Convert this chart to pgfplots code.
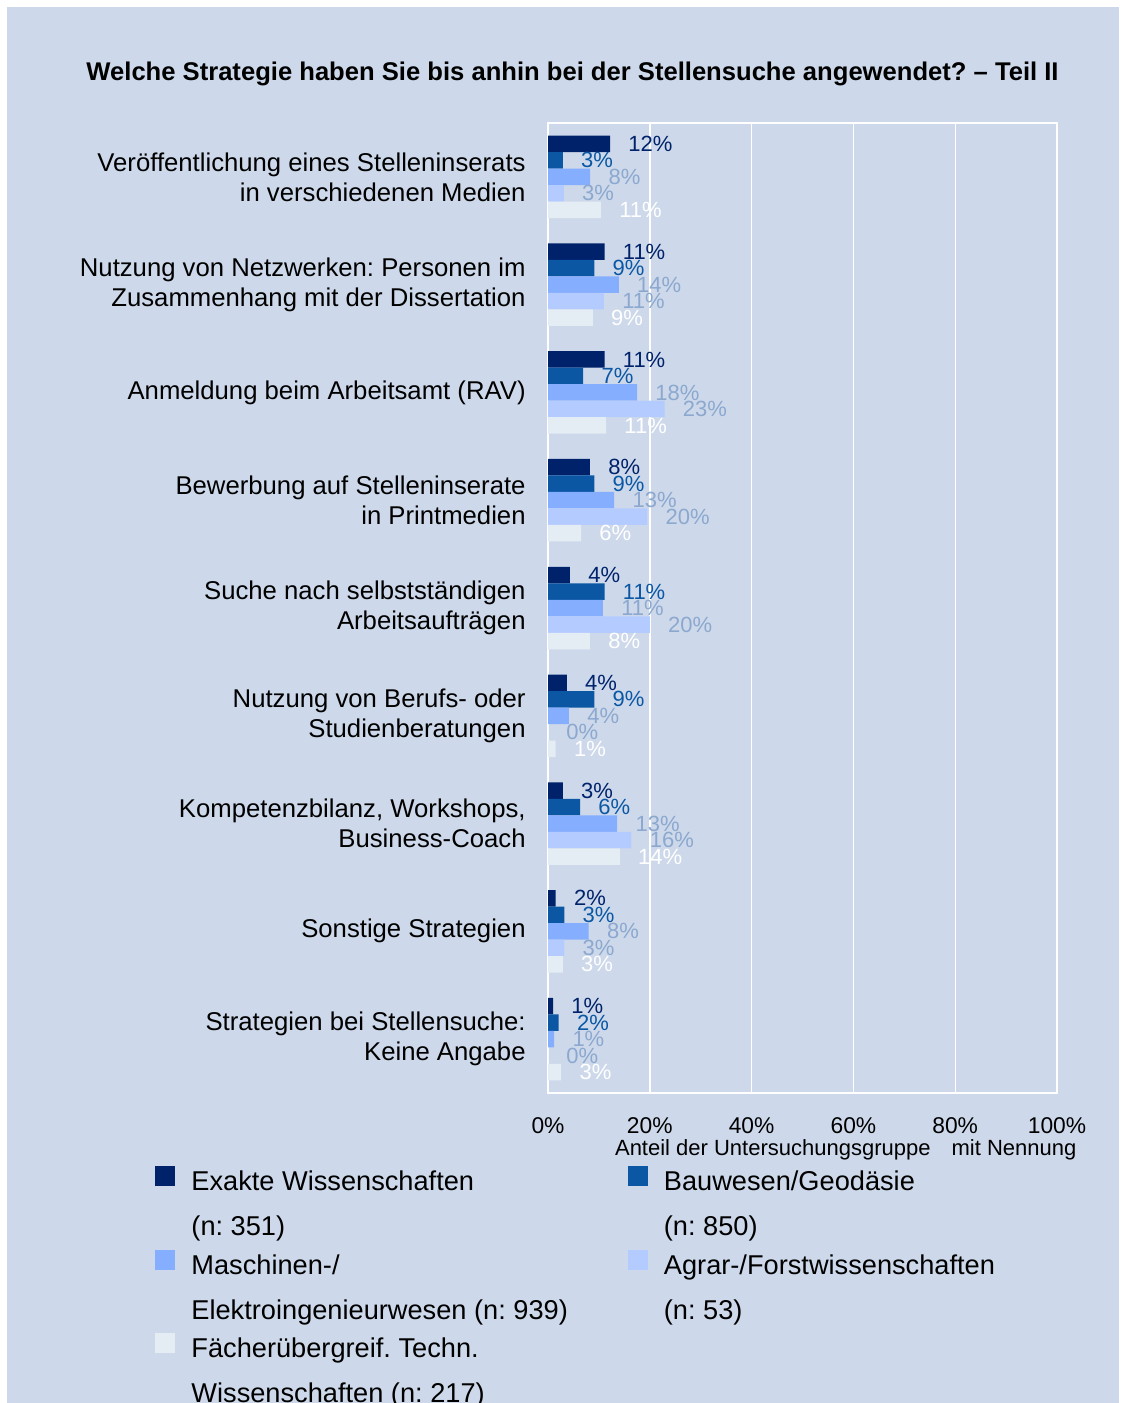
\documentclass[border=0pt]{standalone}
\usepackage{pgfplots}
\pgfplotsset{compat=1.18}
\usepackage{fontspec}
\setmainfont{Liberation Sans}
\frenchspacing
\definecolor{bgblue}{HTML}{CDD9EA}
\definecolor{sA}{HTML}{00226B}
\definecolor{sB}{HTML}{0B57A4}
\definecolor{sC}{HTML}{86AEFF}
\definecolor{sD}{HTML}{B4CBFF}
\definecolor{sE}{HTML}{E4ECF4}
\definecolor{lblgray}{HTML}{8CA8CF}

\pgfplotsset{
  sq/.style={legend image code/.code={\fill[##1,draw=none] (0pt,-2.5pt) rectangle (10pt,7.5pt);}},
  lbl/.style={nodes near coords, point meta=explicit symbolic,
    every node near coord/.append style={anchor=west, inner sep=0pt, xshift=9pt,
      font=\fontsize{11}{13}\selectfont, text=#1}},
}

\begin{document}
\begin{tikzpicture}
\fill[white] (0pt,0pt) rectangle (563pt,-701.5pt);
\fill[bgblue] (3.5pt,-3.5pt) rectangle (559.5pt,-701.5pt);
\node[anchor=base, font=\bfseries\fontsize{12.8}{15}\selectfont] at (286.25pt,-40pt)
  {Welche Strategie haben Sie bis anhin bei der Stellensuche angewendet? –~Teil~II};

\begin{axis}[
  at={(274pt,-61.5pt)}, anchor=north west,
  scale only axis, width=254.5pt, height=485pt,
  xbar, bar width=8.25pt,
  xmin=0, xmax=100, ymin=-0.5, ymax=8.5,
  xtick={0,20,40,60,80,100},
  xticklabel={\pgfmathprintnumber{\tick}\%},
  /pgf/number format/assume math mode=true,
  xticklabel style={anchor=base, inner sep=0pt, yshift=-20pt, font=\fontsize{11.4}{13}\selectfont},
  ytick={0,...,8},
  yticklabels={
    {Strategien bei Stellensuche:\\Keine Angabe},
    {Sonstige Strategien},
    {Kompetenzbilanz, Workshops,\\Business-Coach},
    {Nutzung von Berufs- oder\\Studienberatungen},
    {Suche nach selbstständigen\\Arbeitsaufträgen},
    {Bewerbung auf Stelleninserate\\in Printmedien},
    {Anmeldung beim Arbeitsamt (RAV)},
    {Nutzung von Netzwerken: Personen im\\Zusammenhang mit der Dissertation},
    {Veröffentlichung eines Stelleninserats\\in verschiedenen Medien}},
  yticklabel style={align=right, inner sep=0pt, xshift=-11pt, font=\fontsize{12.85}{15}\selectfont},
  major tick length=0pt,
  axis line style={white, line width=0.7pt},
  xmajorgrids, grid style={white, line width=0.7pt},
  xlabel={Anteil der Untersuchungsgruppe\hspace{7.5pt} mit Nennung},
  xlabel style={at={(axis description cs:0.585,0)}, anchor=base, inner sep=0pt, yshift=-31pt,
    font=\fontsize{11}{13}\selectfont},
  legend columns=2,
  legend cell align=left,
  legend style={at={(axis description cs:-0.772,-0.0753)}, anchor=north west,
    draw=none, fill=none, inner sep=0pt, row sep=28pt,
    nodes={inner sep=0pt, font=\fontsize{13.6}{15.6}\selectfont},
    /tikz/every odd column/.append style={column sep=8pt},
    /tikz/every even column/.append style={column sep=30pt}},
]
\addplot[xbar, fill=sA, draw=none, bar shift=16.5pt, sq, lbl=sA] coordinates {
  (12.2,8) [12\%] (11.1,7) [11\%] (11.1,6) [11\%] (8.25,5) [8\%] (4.3,4) [4\%]
  (3.7,3) [4\%] (2.9,2) [3\%] (1.5,1) [2\%] (1.0,0) [1\%]};
\addlegendentry{\begin{tabular}[t]{@{}l@{}}Exakte Wissenschaften\\[6.9pt](n: 351)\end{tabular}}
\addplot[xbar, fill=sB, draw=none, bar shift=8.25pt, sq, lbl=sB] coordinates {
  (2.9,8) [3\%] (9.1,7) [9\%] (6.9,6) [7\%] (9.1,5) [9\%] (11.1,4) [11\%]
  (9.1,3) [9\%] (6.3,2) [6\%] (3.2,1) [3\%] (2.1,0) [2\%]};
\addlegendentry{\begin{tabular}[t]{@{}l@{}}Bauwesen/Geodäsie\\[6.9pt](n: 850)\end{tabular}}
\addplot[xbar, fill=sC, draw=none, bar shift=0pt, sq, lbl=lblgray] coordinates {
  (8.3,8) [8\%] (13.9,7) [14\%] (17.5,6) [18\%] (13,5) [13\%] (10.8,4) [11\%]
  (4.1,3) [4\%] (13.6,2) [13\%] (8.0,1) [8\%] (1.2,0) [1\%]};
\addlegendentry{\begin{tabular}[t]{@{}l@{}}Maschinen-/\\[6.9pt]Elektroingenieurwesen (n: 939)\end{tabular}}
\addplot[xbar, fill=sD, draw=none, bar shift=-8.25pt, sq, lbl=lblgray] coordinates {
  (3.1,8) [3\%] (11.0,7) [11\%] (22.9,6) [23\%] (19.5,5) [20\%] (20.0,4) [20\%]
  (0,3) [0\%] (16.4,2) [16\%] (3.2,1) [3\%] (0,0) [0\%]};
\addlegendentry{\begin{tabular}[t]{@{}l@{}}Agrar-/Forstwissenschaften\\[6.9pt](n: 53)\end{tabular}}
\addplot[xbar, fill=sE, draw=none, bar shift=-16.5pt, sq, lbl=white] coordinates {
  (10.4,8) [11\%] (8.8,7) [9\%] (11.4,6) [11\%] (6.5,5) [6\%] (8.25,4) [8\%]
  (1.5,3) [1\%] (14.1,2) [14\%] (2.9,1) [3\%] (2.6,0) [3\%]};
\addlegendentry{\begin{tabular}[t]{@{}l@{}}Fächerübergreif. Techn.\\[6.9pt]Wissenschaften (n: 217)\end{tabular}}
\end{axis}
\pgfresetboundingbox
\path[use as bounding box] (0pt,0pt) rectangle (563pt,-701.5pt);
\end{tikzpicture}
\end{document}
